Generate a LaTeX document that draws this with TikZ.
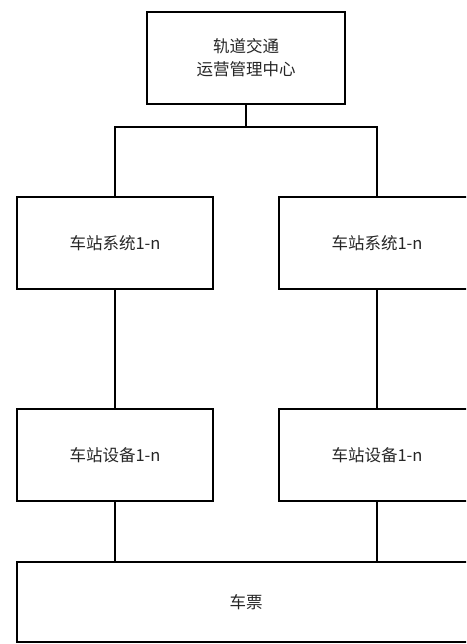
\documentclass[tikz,border=0pt]{standalone}
\usepackage{fontspec}
\usepackage{tikz}
\newfontfamily\cjk{Noto Sans CJK SC}
\usetikzlibrary{positioning}

\tikzset{
  box/.style={draw, line width=1.2pt, rectangle, inner sep=0pt, align=center,
    minimum width=196pt, minimum height=92pt, text=black!85,
    font=\cjk\fontsize{16.5}{23}\selectfont},
  wire/.style={line width=1.2pt}
}

\begin{document}
\begin{tikzpicture}[x=1pt, y=-1pt]
\clip (0,0) rectangle (466,644);
\fill [white] (0,0) rectangle (466,644);

\node [box, minimum width=198pt] (center) at (246,58) {轨道交通\\运营管理中心};

\node [box] (sysL) at (115,243) {车站系统1-n};
\node [box] (sysR) at (377,243) {车站系统1-n};

\node [box] (devL) at (115,455) {车站设备1-n};
\node [box] (devR) at (377,455) {车站设备1-n};

\node [box, minimum width=458pt, minimum height=80pt] (ticket) at (246,602) {车票};

\coordinate (bus) at (246,127);

% connectors
\draw [wire] (center.south) -- (bus);
\draw [wire] (sysL.north) |- (bus) -| (sysR.north);
\draw [wire] (sysL.south) -- (devL.north);
\draw [wire] (sysR.south) -- (devR.north);
\draw [wire] (devL.south) -- (devL.south |- ticket.north);
\draw [wire] (devR.south) -- (devR.south |- ticket.north);
\end{tikzpicture}
\end{document}
